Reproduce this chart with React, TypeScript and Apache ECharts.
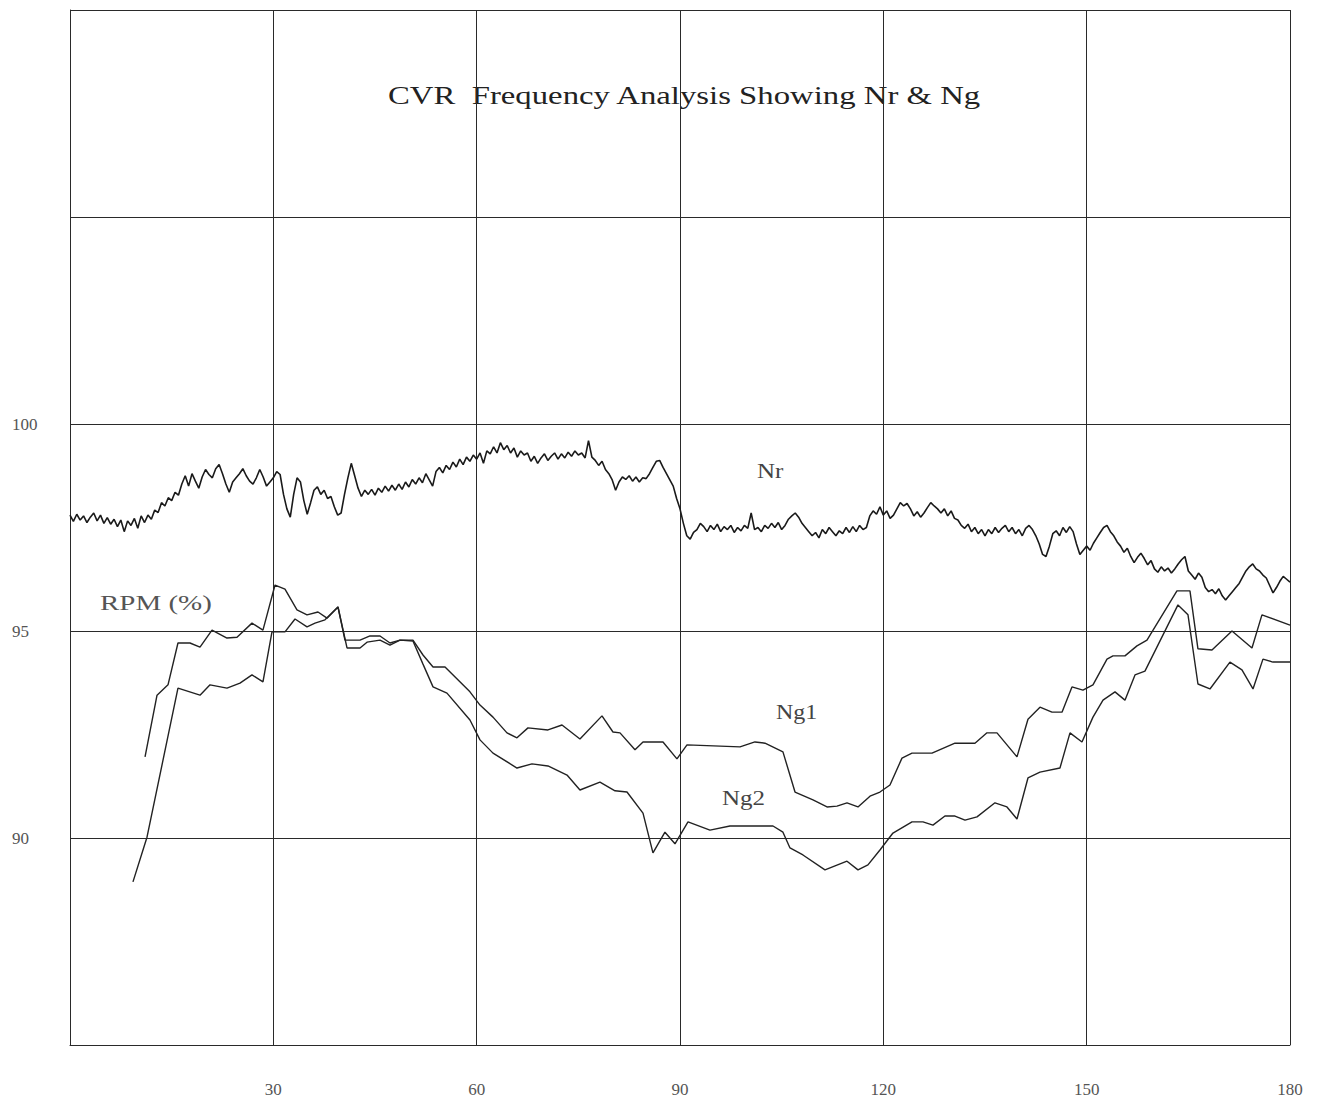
import React, { useEffect, useRef } from 'react';
import * as echarts from 'echarts';

// Nr (rotor rpm %) sampled every NR_STEP seconds from 0 to 180
const NR_STEP = 0.5;
const nrRpm: number[] = [
  97.80, 97.65, 97.82, 97.68, 97.78, 97.62, 97.75, 97.85, 97.66, 97.80, 97.60, 97.74, 97.58, 97.70, 97.52, 97.68, 97.40, 97.66, 97.55, 97.72, 97.48, 97.78, 97.62, 97.80, 97.70,
  97.92, 97.86, 98.10, 98.02, 98.22, 98.15, 98.35, 98.28, 98.55, 98.75,
  98.50, 98.80, 98.62, 98.45, 98.72, 98.90, 98.78, 98.70, 98.92, 99.02,
  98.80, 98.55, 98.35, 98.60, 98.70, 98.80, 98.92, 98.75, 98.62, 98.55,
  98.70, 98.90, 98.72, 98.50, 98.60, 98.70, 98.85, 98.78, 98.30, 97.95, 97.75,
  98.30, 98.70, 98.60, 98.15, 97.82, 98.10, 98.40, 98.48, 98.30, 98.40, 98.20, 98.25, 98.00, 97.80, 97.85,
  98.30, 98.70, 99.05, 98.75, 98.45, 98.25, 98.40, 98.30, 98.42, 98.28, 98.45, 98.35, 98.50, 98.38, 98.52, 98.40,
  98.55, 98.42, 98.60, 98.48, 98.66, 98.55, 98.70, 98.58, 98.80, 98.65, 98.50, 98.85, 98.95, 98.82,
  99.00, 98.90, 99.08, 98.96, 99.15, 99.02, 99.20, 99.10, 99.25, 99.15, 99.30, 99.05, 99.35, 99.28,
  99.45, 99.30, 99.55, 99.38, 99.48, 99.30, 99.42, 99.20, 99.35, 99.25, 99.30, 99.10, 99.22, 99.05,
  99.18, 99.28, 99.12, 99.22, 99.30, 99.15, 99.28, 99.18, 99.32, 99.22, 99.35, 99.25, 99.30, 99.18,
  99.60, 99.20, 99.12, 99.00, 99.10, 98.90, 98.80, 98.65,
  98.40, 98.60, 98.72, 98.66, 98.75, 98.62, 98.72, 98.60, 98.70, 98.68, 98.80, 98.95, 99.10, 99.12, 98.95, 98.80, 98.65, 98.50, 98.20,
  97.95, 97.60, 97.30, 97.22,
  97.38, 97.45, 97.60, 97.52, 97.40, 97.55, 97.45, 97.58, 97.40, 97.52, 97.45, 97.55, 97.38, 97.50, 97.42, 97.55, 97.48, 97.85, 97.45, 97.50, 97.40, 97.55, 97.48, 97.60, 97.50, 97.62, 97.45, 97.55, 97.70, 97.78, 97.85,
  97.75, 97.60, 97.50, 97.40, 97.30, 97.38, 97.25, 97.45, 97.35, 97.50, 97.40, 97.30, 97.42, 97.35, 97.50, 97.38, 97.52, 97.40, 97.55, 97.45, 97.50, 97.78, 97.90, 97.82,
  98.00, 97.80, 97.90, 97.72, 97.80, 97.95, 98.10, 98.02, 98.08, 97.95, 97.78, 97.88, 97.75, 97.85, 97.98, 98.10, 98.02, 97.95,
  97.85, 97.95, 97.78, 97.90, 97.72, 97.68, 97.55, 97.48, 97.58, 97.40, 97.50, 97.35, 97.45, 97.30,
  97.45, 97.35, 97.50, 97.38, 97.48, 97.55, 97.40, 97.50, 97.35, 97.45, 97.30, 97.48, 97.55, 97.45,
  97.30, 97.10, 96.85, 96.80, 97.05, 97.35, 97.42, 97.30, 97.50, 97.38, 97.52, 97.40, 97.10, 96.85, 96.95, 97.05,
  96.95, 97.12, 97.25, 97.38, 97.50, 97.55, 97.40, 97.30, 97.15, 97.05, 96.90, 97.00, 96.80, 96.65, 96.78, 96.88,
  96.75, 96.60, 96.70, 96.50, 96.42, 96.55, 96.45, 96.52, 96.40, 96.50, 96.62, 96.72, 96.80, 96.45, 96.35, 96.25,
  96.40, 96.30, 96.05, 95.95, 96.00, 95.90, 96.02, 95.85, 95.75, 95.85, 95.95, 96.05, 96.15, 96.30,
  96.45, 96.55, 96.62, 96.50, 96.45, 96.35, 96.28, 96.10, 95.92, 96.05, 96.20, 96.32, 96.25, 96.18,
];

// Ng1 [time s, rpm %]
const ng1Points: [number, number][] = [
  [11.07, 91.96], [12.84, 93.45], [14.46, 93.70], [15.93, 94.71], [17.70, 94.71], [19.18, 94.61],
  [20.95, 95.02], [23.16, 94.83], [24.64, 94.85], [26.85, 95.19], [28.47, 95.02], [30.25, 96.11],
  [31.72, 96.01], [33.49, 95.51], [34.97, 95.39], [36.59, 95.46], [37.92, 95.31], [39.54, 95.58],
  [40.57, 94.78], [42.79, 94.78], [44.26, 94.88], [45.74, 94.88], [47.21, 94.71], [48.69, 94.78],
  [50.60, 94.78], [52.08, 94.42], [53.56, 94.13], [55.33, 94.13], [59.01, 93.53], [60.49, 93.21],
  [62.41, 92.92], [64.47, 92.54], [65.95, 92.42], [67.57, 92.66], [70.52, 92.61], [72.59, 92.73],
  [75.24, 92.39], [78.49, 92.95], [80.11, 92.56], [81.15, 92.54], [83.36, 92.13], [84.54, 92.32],
  [87.49, 92.32], [89.55, 91.91], [91.03, 92.25], [98.85, 92.20], [101.06, 92.32], [102.54, 92.29],
  [105.19, 92.08], [106.97, 91.11], [109.62, 90.92], [111.69, 90.75], [113.16, 90.77], [114.64, 90.85],
  [116.26, 90.75], [118.03, 91.01], [119.50, 91.11], [120.98, 91.28], [122.75, 91.93], [124.23, 92.05],
  [127.18, 92.05], [130.57, 92.29], [133.52, 92.29], [135.29, 92.54], [136.77, 92.54], [139.72, 91.96],
  [141.34, 92.87], [143.11, 93.16], [144.88, 93.04], [146.36, 93.04], [147.83, 93.65], [149.45, 93.57],
  [150.93, 93.70], [153.00, 94.32], [153.88, 94.40], [155.65, 94.40], [157.42, 94.64], [158.90, 94.78],
  [163.32, 95.97], [165.24, 95.97], [166.42, 94.57], [168.49, 94.54], [171.44, 95.00], [174.39, 94.59],
  [175.86, 95.39], [180.00, 95.14],
];

// Ng2 [time s, rpm %]
const ng2Points: [number, number][] = [
  [9.29, 88.94], [11.36, 90.02], [15.93, 93.62], [19.18, 93.45], [20.66, 93.70], [23.16, 93.62],
  [25.08, 93.74], [26.85, 93.94], [28.47, 93.77], [29.80, 94.98], [31.72, 94.98], [33.20, 95.29],
  [34.97, 95.10], [36.15, 95.19], [37.62, 95.27], [39.54, 95.58], [40.87, 94.59], [42.79, 94.59],
  [43.82, 94.73], [45.74, 94.78], [47.21, 94.66], [48.69, 94.78], [50.60, 94.76], [52.08, 94.20],
  [53.56, 93.65], [55.62, 93.50], [59.01, 92.85], [60.49, 92.37], [62.41, 92.05], [65.95, 91.69],
  [68.16, 91.79], [70.52, 91.74], [73.33, 91.52], [75.24, 91.16], [78.19, 91.35], [80.41, 91.14],
  [82.18, 91.11], [84.54, 90.60], [86.01, 89.64], [87.78, 90.14], [89.26, 89.86], [91.18, 90.39],
  [94.42, 90.19], [97.37, 90.29], [103.72, 90.29], [105.19, 90.14], [106.23, 89.76], [108.14, 89.59],
  [111.39, 89.23], [114.64, 89.44], [116.26, 89.23], [117.73, 89.35], [119.50, 89.71], [121.42, 90.12],
  [124.23, 90.39], [125.85, 90.39], [127.32, 90.31], [129.09, 90.53], [130.57, 90.53], [132.05, 90.43],
  [133.82, 90.51], [136.47, 90.85], [138.24, 90.75], [139.72, 90.46], [141.34, 91.45], [143.11, 91.59],
  [146.06, 91.69], [147.54, 92.54], [149.31, 92.32], [150.93, 92.92], [152.41, 93.33], [154.18, 93.53],
  [155.65, 93.33], [157.13, 93.94], [158.60, 94.03], [163.47, 95.63], [164.95, 95.39], [166.42, 93.72],
  [168.19, 93.60], [171.14, 94.25], [172.91, 94.06], [174.54, 93.60], [176.01, 94.32], [177.49, 94.25],
  [180.00, 94.25],
];

const xTickLabels = [30, 60, 90, 120, 150, 180];
const yTickLabels = [90, 95, 100];

const SERIF = '"Liberation Serif", "DejaVu Serif", "Times New Roman", serif';

export default function App() {
  const ref = useRef<HTMLDivElement>(null);

  useEffect(() => {
    document.body.style.margin = '0';
    const chart = echarts.init(ref.current!, null, { renderer: 'svg' });
    const nrData = nrRpm.map((v, i) => [i * NR_STEP, v]);
    const gridLine = { color: '#2a2a2a', width: 1 };

    chart.setOption({
      animation: false,
      backgroundColor: '#ffffff',
      grid: { left: 70, right: 31, top: 10, bottom: 75 },
      xAxis: {
        type: 'value',
        min: 0,
        max: 180,
        interval: 30,
        axisLine: { show: true, lineStyle: gridLine },
        axisTick: { show: false },
        splitLine: { show: true, lineStyle: gridLine },
        axisLabel: {
          formatter: (v: number) => (xTickLabels.includes(v) ? String(v) : ''),
          margin: 36,
          color: '#555',
          fontFamily: SERIF,
          fontSize: 17,
        },
      },
      yAxis: {
        type: 'value',
        min: 85,
        max: 110,
        interval: 5,
        axisLine: { show: true, lineStyle: gridLine },
        axisTick: { show: false },
        splitLine: { show: true, lineStyle: gridLine },
        axisLabel: {
          formatter: (v: number) => (yTickLabels.includes(v) ? String(v) : ''),
          align: 'left',
          margin: 58,
          color: '#555',
          fontFamily: SERIF,
          fontSize: 17,
        },
      },
      series: [
        {
          name: 'Nr',
          type: 'line',
          data: nrData,
          showSymbol: false,
          lineStyle: { color: '#1a1a1a', width: 1.6 },
        },
        {
          name: 'Ng1',
          type: 'line',
          data: ng1Points,
          showSymbol: false,
          lineStyle: { color: '#222', width: 1.4 },
        },
        {
          name: 'Ng2',
          type: 'line',
          data: ng2Points,
          showSymbol: false,
          lineStyle: { color: '#222', width: 1.4 },
        },
      ],
      graphic: [
        {
          type: 'text',
          x: 388,
          y: 95,
          scaleX: 1.26,
          style: {
            text: 'CVR  Frequency Analysis Showing Nr & Ng',
            fontFamily: SERIF,
            fontSize: 26,
            fill: '#222',
            textAlign: 'left',
            textVerticalAlign: 'middle',
          },
        },
        {
          type: 'text',
          x: 100,
          y: 603,
          scaleX: 1.45,
          style: {
            text: 'RPM (%)',
            fontFamily: SERIF,
            fontSize: 20,
            fill: '#555',
            textAlign: 'left',
            textVerticalAlign: 'middle',
          },
        },
        {
          type: 'text',
          x: 757,
          y: 471,
          scaleX: 1.25,
          style: { text: 'Nr', fontFamily: SERIF, fontSize: 20, fill: '#444', textAlign: 'left', textVerticalAlign: 'middle' },
        },
        {
          type: 'text',
          x: 776,
          y: 712,
          scaleX: 1.2,
          style: { text: 'Ng1', fontFamily: SERIF, fontSize: 20, fill: '#444', textAlign: 'left', textVerticalAlign: 'middle' },
        },
        {
          type: 'text',
          x: 722,
          y: 798,
          scaleX: 1.25,
          style: { text: 'Ng2', fontFamily: SERIF, fontSize: 20, fill: '#444', textAlign: 'left', textVerticalAlign: 'middle' },
        },
      ],
    });

    return () => chart.dispose();
  }, []);

  return <div ref={ref} style={{ width: 1321, height: 1120 }} />;
}
